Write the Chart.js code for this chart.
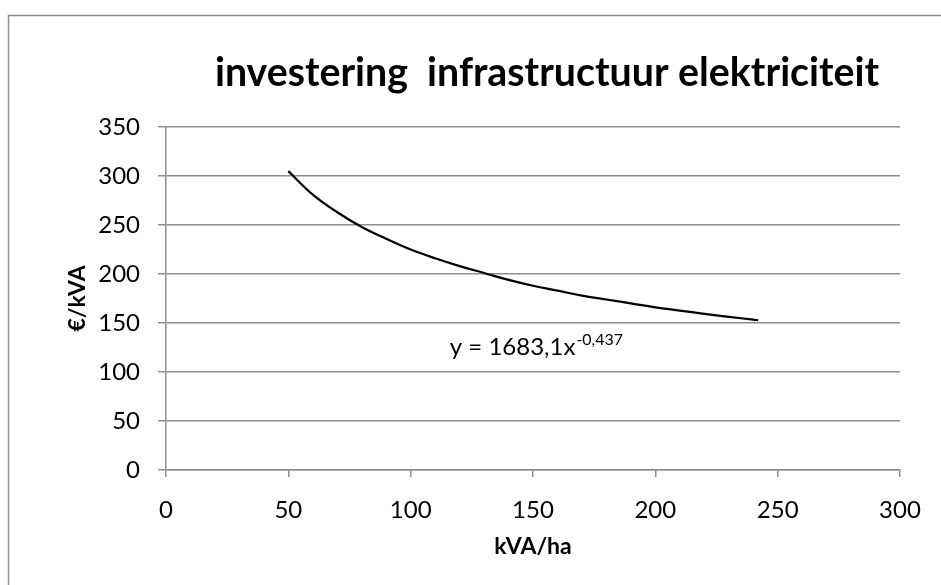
<!DOCTYPE html>
<html>
<head>
<meta charset="utf-8">
<script src="https://cdn.jsdelivr.net/npm/chart.js@4.4.1/dist/chart.umd.min.js"></script>
<style>
  html, body { margin: 0; padding: 0; background: #fff; overflow: hidden; }
  canvas { display: block; }
</style>
</head>
<body>
<canvas id="myChart" width="941" height="585"></canvas>
<script>
const CHART_TITLE = 'investering  infrastructuur elektriciteit';
const X_TITLE = 'kVA/ha';
const Y_TITLE = '€/kVA';
const EQUATION = 'y = 1683,1x';
const EQUATION_EXP = '-0,437';

// kVA/ha (x) en €/kVA (y)
const kvaPerHa = [50, 60, 70, 80, 90, 100, 110, 120, 130, 140, 150, 160, 170, 180, 190, 200, 210, 220, 230, 240, 242];
const euroPerKva = [305, 281, 263, 248, 236, 225, 216, 208, 201, 194, 188, 183, 178, 174, 170, 166, 162.7, 159.4, 156.3, 153.4, 152.9];

const xTicks = [0, 50, 100, 150, 200, 250, 300];
const yTicks = [0, 50, 100, 150, 200, 250, 300, 350];

const GRID = '#8e8e8e';
const FONT = 'Lato';

const curvePoints = kvaPerHa.map((x, i) => ({ x: x, y: euroPerKva[i] }));

const chartFrame = {
  id: 'chartFrame',
  beforeDraw(chart) {
    const ctx = chart.ctx;
    ctx.save();
    ctx.fillStyle = '#fff';
    ctx.fillRect(0, 0, chart.width, chart.height);
    ctx.strokeStyle = GRID;
    ctx.lineWidth = 1.5;
    ctx.strokeRect(8.5, 15.5, 2000, 2000);
    ctx.restore();
  },
  afterDraw(chart) {
    const ctx = chart.ctx;
    ctx.save();
    // titel, breedte afgestemd op het origineel
    ctx.font = 'bold 100px ' + FONT;
    const w = ctx.measureText(CHART_TITLE).width;
    const size = 100 * 665 / w;
    ctx.font = 'bold ' + size.toFixed(1) + 'px ' + FONT;
    ctx.fillStyle = '#000';
    ctx.textAlign = 'center';
    ctx.textBaseline = 'alphabetic';
    ctx.fillText(CHART_TITLE, 547, 86);

    // trendlijn-vergelijking
    const xs = chart.scales.x, ys = chart.scales.y;
    const ex = xs.getPixelForValue(116);
    const ey = ys.getPixelForValue(117);
    ctx.textAlign = 'left';
    ctx.font = '24px ' + FONT;
    ctx.fillText(EQUATION, ex, ey);
    const mw = ctx.measureText(EQUATION).width;
    ctx.font = '16px ' + FONT;
    ctx.fillText(EQUATION_EXP, ex + mw + 1, ey - 10);
    ctx.restore();
  }
};

const ctx = document.getElementById('myChart');
const chart = new Chart(ctx, {
  type: 'scatter',
  data: {
    datasets: [{
      data: curvePoints,
      showLine: true,
      borderColor: '#000',
      borderWidth: 2.2,
      pointRadius: 0,
      tension: 0.4,
      fill: false,
    }]
  },
  options: {
    responsive: false,
    animation: false,
    layout: { padding: { top: 127, right: 41, bottom: 0, left: 0 } },
    scales: {
      x: {
        type: 'linear',
        min: xTicks[0],
        max: xTicks[xTicks.length - 1],
        afterBuildTicks: s => { s.ticks = xTicks.map(v => ({ value: v })); },
        afterFit: s => { s.height = 115; },
        grid: { drawOnChartArea: false, drawTicks: true, tickLength: 7, color: GRID, lineWidth: 1.5 },
        border: { color: GRID, width: 1.5 },
        ticks: { color: '#000', font: { family: FONT, size: 24 }, padding: 19, maxRotation: 0 },
        title: { display: true, text: X_TITLE, color: '#000', font: { family: FONT, size: 23, weight: 'bold' }, padding: { top: 0, bottom: 25 } }
      },
      y: {
        type: 'linear',
        min: yTicks[0],
        max: yTicks[yTicks.length - 1],
        afterBuildTicks: s => { s.ticks = yTicks.map(v => ({ value: v })); },
        afterFit: s => { s.width = 166; },
        grid: { drawOnChartArea: true, drawTicks: true, tickLength: 8, color: GRID, lineWidth: 1.5 },
        border: { color: GRID, width: 1.5 },
        ticks: { color: '#000', font: { family: FONT, size: 24 }, padding: 18 },
        title: { display: true, text: Y_TITLE, color: '#000', font: { family: FONT, size: 23, weight: 'bold' }, padding: { top: 64, bottom: 0 } }
      }
    },
    plugins: {
      legend: { display: false },
      title: { display: false },
      tooltip: { enabled: false }
    }
  },
  plugins: [chartFrame]
});
</script>
</body>
</html>
